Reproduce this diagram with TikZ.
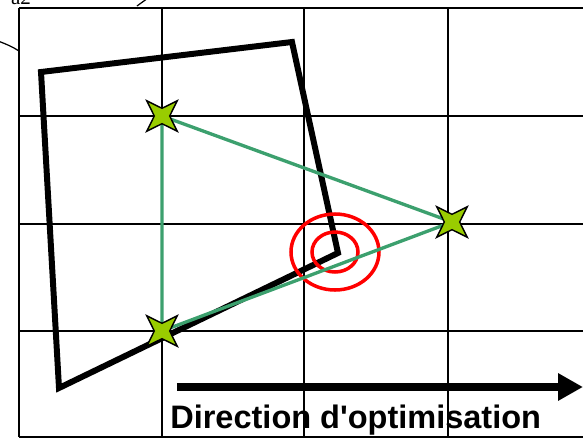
\documentclass[tikz,border=0pt]{standalone}
\usepackage{fontspec}
\setmainfont{Liberation Serif}
\setsansfont{Liberation Sans}[Ligatures=TeXOff]
\usetikzlibrary{arrows.meta,shapes.geometric}
\definecolor{vertLigne}{HTML}{3CA06E}
\definecolor{vertEtoile}{HTML}{99CC00}
\definecolor{rougeCible}{HTML}{FF0000}

\begin{document}
\begin{tikzpicture}[x=0.02cm,y=-0.02cm,
    grille/.style={line width=1.6pt},
    etoile/.style={star,star points=4,star point ratio=2.8,shape border rotate=45,
      draw=black,line width=0.8pt,fill=vertEtoile,minimum size=0.86cm,inner sep=0pt}]
    \useasboundingbox (0,0) rectangle (583,440);
    % fragments du haut
    \node[font=\fontsize{12}{12}\selectfont,anchor=base] (ref) at (21,4) {a2};
    \draw[line width=0.7pt] (-2,41) .. controls (6,44) and (13,47) .. (19,51);
    \draw[line width=0.7pt] (137,6) .. controls (141,3) and (144,1) .. (148,-2);
    % grille
    \foreach \x in {19,162,304,448}
      \draw[grille] (\x,8) -- (\x,437);
    \foreach \y in {8,116,224,331,437}
      \draw[grille] (19,\y) -- (583,\y);
    % polygone
    \coordinate (q1) at (41,72);
    \coordinate (q2) at (292,42);
    \coordinate (q3) at (338,253);
    \coordinate (q4) at (59,388);
    \draw[line width=3.4pt] (q1) -- (q2) -- (q3) -- (q4) -- cycle;
    % cible
    \coordinate (cible) at (335,252);
    \draw[rougeCible,line width=2pt] (cible) ellipse [x radius=44,y radius=38];
    \draw[rougeCible,line width=2pt] (cible) ellipse [x radius=23,y radius=20];
    % simplexe
    \coordinate (p1) at (162,116);
    \coordinate (p2) at (452,222);
    \coordinate (p3) at (162,331);
    \draw[vertLigne,line width=1.9pt] (p1) -- (p2) -- (p3) -- cycle;
    \node[etoile] (s1) at (p1) {};
    \node[etoile] (s2) at (p2) {};
    \node[etoile] (s3) at (p3) {};
    % direction
    \coordinate (d1) at (177,387);
    \coordinate (d2) at (583,387);
    \draw[line width=4pt,-{Triangle[length=0.5cm,width=0.52cm]}] (d1) -- (d2);
    \node[font=\sffamily\bfseries\fontsize{18.5}{20}\selectfont,anchor=base west,inner sep=0pt]
      (dir) at (170,428) {Direction d'optimisation};
  \end{tikzpicture}
\end{document}
